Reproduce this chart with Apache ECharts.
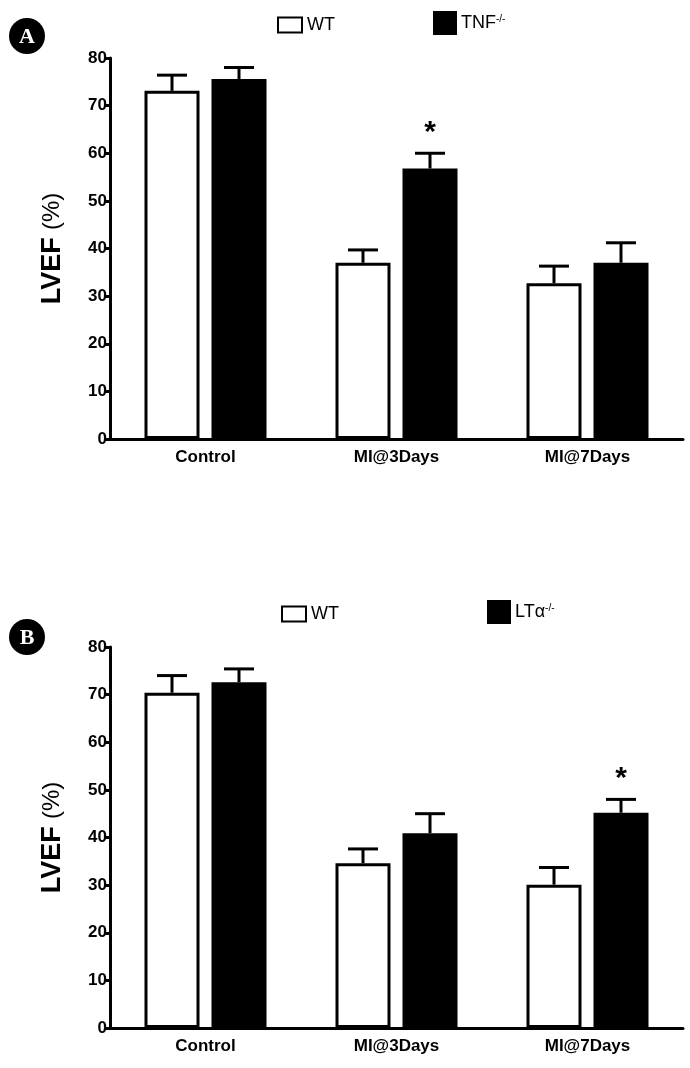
<!DOCTYPE html>
<html>
<head>
<meta charset="utf-8">
<script src="https://cdn.jsdelivr.net/npm/echarts@6/dist/echarts.min.js"></script>
<style>
html,body{margin:0;padding:0;background:#fff;}
#c{width:690px;height:1068px;}
</style>
</head>
<body>
<div id="c"></div>
<script>
// ---- data ----
const categories = ['Control', 'MI@3Days', 'MI@7Days'];
// Panel A
const wtA = [73.1, 37.0, 32.7];
const wtAUpper = [76.4, 39.7, 36.3];
const tnfA = [75.6, 56.8, 37.0];
const tnfAUpper = [78.0, 60.0, 41.2];
const tnfASig = [0, 1, 0];
// Panel B
const wtB = [70.4, 34.6, 30.1];
const wtBUpper = [74.0, 37.6, 33.7];
const ltaB = [72.6, 40.9, 45.2];
const ltaBUpper = [75.4, 45.0, 48.0];
const ltaBSig = [0, 0, 1];
const yTicks = [0, 10, 20, 30, 40, 50, 60, 70, 80];

// ---- styles ----
const FONT = "'Liberation Sans', Arial, sans-serif";
const BAR_W = 55, BAR_GAP_PX = 12, BORDER = 3;
const OFFSET = (BAR_W + BAR_GAP_PX) / 2;

function errData(mean, upper, sig) {
  return mean.map((m, i) => [i, m, upper[i], sig ? sig[i] : 0]);
}

function errSeries(data, xi, yi, offset) {
  return {
    type: 'custom',
    xAxisIndex: xi, yAxisIndex: yi,
    z: 5,
    silent: true,
    encode: { x: 0, y: [1, 2] },
    data: data,
    renderItem: function (params, api) {
      const c = api.value(0);
      const p0 = api.coord([c, api.value(1)]);
      const p1 = api.coord([c, api.value(2)]);
      const x = p0[0] + offset;
      const children = [
        { type: 'line', shape: { x1: x, y1: p0[1], x2: x, y2: p1[1] }, style: { stroke: '#000', lineWidth: 3 } },
        { type: 'line', shape: { x1: x - 15, y1: p1[1], x2: x + 15, y2: p1[1] }, style: { stroke: '#000', lineWidth: 3 } }
      ];
      if (api.value(3)) {
        children.push({ type: 'text', style: { text: '*', x: x, y: p1[1] - 6, textAlign: 'center', textVerticalAlign: 'bottom', font: "bold 30px " + FONT, fill: '#000' } });
      }
      return { type: 'group', children: children };
    }
  };
}

function xAxisDef(gi) {
  return {
    type: 'category', gridIndex: gi, data: categories,
    axisLine: { lineStyle: { color: '#000', width: 3 } },
    axisTick: { alignWithLabel: true, length: 6, lineStyle: { color: '#000', width: 3 } },
    axisLabel: { color: '#000', fontFamily: FONT, fontWeight: 'bold', fontSize: 17, margin: 10 },
    splitLine: { show: false }
  };
}
function yAxisDef(gi) {
  return {
    type: 'value', gridIndex: gi, min: yTicks[0], max: yTicks[yTicks.length - 1], interval: yTicks[1] - yTicks[0],
    axisLine: { show: true, lineStyle: { color: '#000', width: 3 } },
    axisTick: { show: true, length: 6, lineStyle: { color: '#000', width: 3 } },
    axisLabel: { color: '#000', fontFamily: FONT, fontWeight: 'bold', fontSize: 17, margin: 3 },
    splitLine: { show: false },
    name: '{b|LVEF} {n|(%)}',
    nameLocation: 'middle', nameRotate: 90, nameGap: 44,
    nameTextStyle: { rich: {
      b: { fontFamily: FONT, fontWeight: 'bold', fontSize: 27, color: '#000' },
      n: { fontFamily: FONT, fontSize: 24, color: '#000', padding: [0, 0, 0, 4] }
    } }
  };
}
function barSeries(name, data, xi, yi, filled) {
  return {
    type: 'bar', name: name, xAxisIndex: xi, yAxisIndex: yi, data: data,
    barWidth: BAR_W, barGap: (BAR_GAP_PX / BAR_W * 100) + '%',
    itemStyle: { color: filled ? '#000' : '#fff', borderColor: '#000', borderWidth: BORDER },
    emphasis: { disabled: true }
  };
}
function legendDef(name, left, top, w, h, supText) {
  return {
    data: [{ name: name, icon: 'rect' }], left: left, top: top, itemWidth: w, itemHeight: h, itemGap: 0,
    selectedMode: false,
    formatter: supText ? (n => '{m|' + n + '}{s|' + supText + '}') : undefined,
    textStyle: { color: '#000', fontFamily: FONT, fontSize: 18,
      rich: { m: { fontFamily: FONT, fontSize: 18, color: '#000' }, s: { fontFamily: FONT, fontSize: 10, color: '#000', verticalAlign: 'top', padding: [0, 0, 8, 0] } } }
  };
}

const option = {
  backgroundColor: '#fff',
  animation: false,
  grid: [
    { left: 110, top: 58, width: 573, height: 381 },
    { left: 110, top: 647, width: 573, height: 381 }
  ],
  xAxis: [xAxisDef(0), xAxisDef(1)],
  yAxis: [yAxisDef(0), yAxisDef(1)],
  legend: [
    legendDef('WT', 272, 11, 24, 15),
    legendDef('TNF', 428, 6, 22, 22, '-/-'),
    legendDef('WT ', 276, 600, 24, 15),
    legendDef('LTα', 482, 595, 22, 22, '-/-')
  ],
  series: [
    barSeries('WT', wtA, 0, 0, false),
    barSeries('TNF', tnfA, 0, 0, true),
    errSeries(errData(wtA, wtAUpper), 0, 0, -OFFSET),
    errSeries(errData(tnfA, tnfAUpper, tnfASig), 0, 0, OFFSET),
    barSeries('WT ', wtB, 1, 1, false),
    barSeries('LTα', ltaB, 1, 1, true),
    errSeries(errData(wtB, wtBUpper), 1, 1, -OFFSET),
    errSeries(errData(ltaB, ltaBUpper, ltaBSig), 1, 1, OFFSET)
  ],
  graphic: [
    { type: 'circle', shape: { cx: 27, cy: 36, r: 18 }, style: { fill: '#000' } },
    { type: 'text', style: { text: 'A', x: 27, y: 37, textAlign: 'center', textVerticalAlign: 'middle', font: "bold 22px 'Liberation Serif', 'DejaVu Serif', serif", fill: '#fff' } },
    { type: 'circle', shape: { cx: 27, cy: 637, r: 18 }, style: { fill: '#000' } },
    { type: 'text', style: { text: 'B', x: 27, y: 638, textAlign: 'center', textVerticalAlign: 'middle', font: "bold 22px 'Liberation Serif', 'DejaVu Serif', serif", fill: '#fff' } }
  ]
};

const chart = echarts.init(document.getElementById('c'), null, { renderer: 'canvas' });
chart.setOption(option);
</script>
</body>
</html>
